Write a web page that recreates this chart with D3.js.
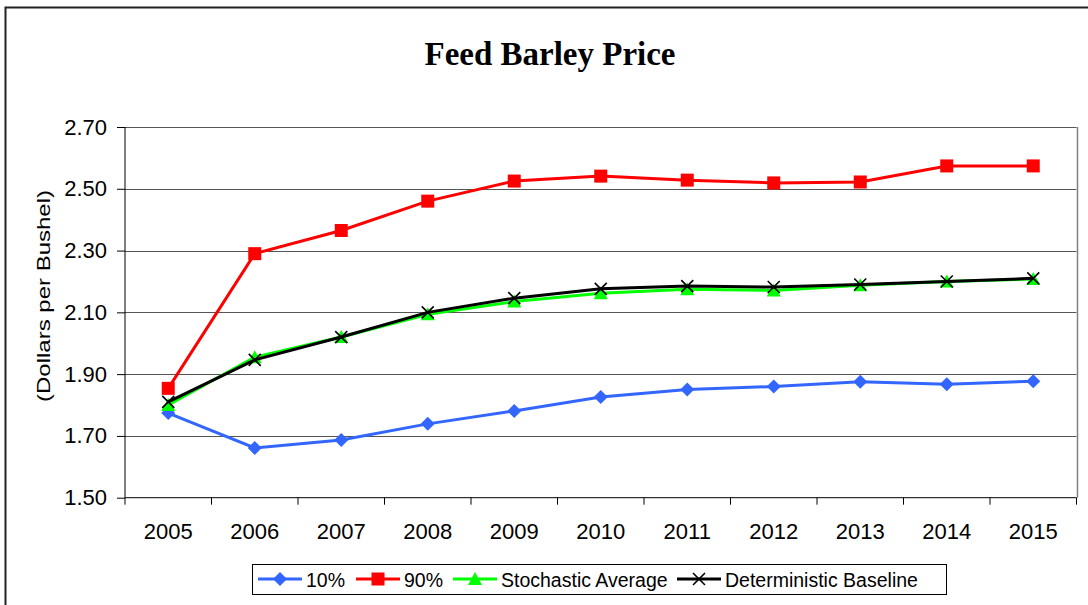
<!DOCTYPE html>
<html><head><meta charset="utf-8">
<script src="https://cdn.jsdelivr.net/npm/d3@7"></script>
<style>body{margin:0;background:#fff}svg{display:block}</style>
</head><body>
<svg id="c" width="1088" height="605"></svg>
<script>
const years = ["2005","2006","2007","2008","2009","2010","2011","2012","2013","2014","2015"];
const p10 = [1.774,1.661,1.687,1.739,1.781,1.826,1.850,1.860,1.875,1.867,1.877];
const p90 = [1.854,2.290,2.365,2.460,2.525,2.541,2.528,2.519,2.522,2.574,2.574];
const stochastic = [1.800,1.955,2.020,2.094,2.135,2.162,2.175,2.171,2.188,2.200,2.208];
const deterministic = [1.810,1.946,2.020,2.100,2.146,2.176,2.185,2.182,2.190,2.200,2.210];
const yTicks = [1.50,1.70,1.90,2.10,2.30,2.50,2.70];
const seriesNames = ["10%","90%","Stochastic Average","Deterministic Baseline"];
const seriesColors = ["#3366FF","#FF0000","#00FF00","#000000"];
const seriesSymbols = ["diamond","square","triangle","x"];

const svg = d3.select("#c");
const L=125, R=1076.5, T=127, B=497.7;
const SANS = "'Liberation Sans',Arial,sans-serif";

// outer border
svg.append("rect").attr("x",5.5).attr("y",7.5).attr("width",1200).attr("height",800)
  .attr("fill","none").attr("stroke","#222").attr("stroke-width",2);

const x = d3.scaleBand().domain(years).range([L,R]);
const y = d3.scaleLinear().domain([1.5,2.7]).range([B,T]);

// gridlines
svg.append("g").selectAll("line").data(yTicks.slice(1)).join("line")
  .attr("x1",L).attr("x2",R).attr("y1",d=>Math.round(y(d))+0.5).attr("y2",d=>Math.round(y(d))+0.5)
  .attr("stroke","#555").attr("stroke-width",1);
// right border of plot
svg.append("line").attr("x1",Math.round(R)+0.5).attr("x2",Math.round(R)+0.5).attr("y1",T).attr("y2",B)
  .attr("stroke","#808080").attr("stroke-width",1.5);

// axes
const yAxis = d3.axisLeft(y).tickValues(yTicks).tickFormat(d3.format(".2f")).tickSize(8).tickPadding(10);
const gy = svg.append("g").attr("transform",`translate(${L},0)`).call(yAxis);
gy.selectAll("text").attr("font-family",SANS).attr("font-size",22).attr("fill","#000");
gy.selectAll("line,path").attr("stroke","#000");
gy.select(".domain").attr("d",`M0,${T}V${B}`);

const xAxis = d3.axisBottom(x).tickSize(0).tickPadding(25.5);
const gx = svg.append("g").attr("transform",`translate(0,${B})`).call(xAxis);
gx.selectAll("text").attr("font-family",SANS).attr("font-size",22).attr("fill","#000");
gx.select(".domain").attr("stroke","#000").attr("d",`M${L},0H${R}`);
// ticks between categories
const boundaries = years.map(d=>x(d)).concat([R]);
gx.append("g").selectAll("line").data(boundaries).join("line")
  .attr("x1",d=>d).attr("x2",d=>d).attr("y1",0).attr("y2",7).attr("stroke","#000");

// title
svg.append("text").attr("x",550).attr("y",65).attr("text-anchor","middle")
  .attr("font-family","'Liberation Serif','Times New Roman',serif").attr("font-weight","bold")
  .attr("font-size",33).text("Feed Barley Price");

// y label
svg.append("text").attr("transform","translate(50,296) rotate(-90)").attr("text-anchor","middle")
  .attr("font-family",SANS).attr("font-size",19)
  .attr("textLength",212).attr("lengthAdjust","spacingAndGlyphs").text("(Dollars per Bushel)");

const cx = d=>x(d)+x.bandwidth()/2;
const data = [p10,p90,stochastic,deterministic];
const line = d3.line().x((d,i)=>cx(years[i])).y(d=>y(d));

function marker(g, sym, color, px, py){
  if(sym==="diamond"){
    g.append("path").attr("d",`M${px},${py-7}L${px+7},${py}L${px},${py+7}L${px-7},${py}Z`).attr("fill",color);
  } else if(sym==="square"){
    g.append("rect").attr("x",px-6.5).attr("y",py-6.5).attr("width",13).attr("height",13).attr("fill",color);
  } else if(sym==="triangle"){
    g.append("path").attr("d",`M${px},${py-7}L${px+7},${py+6}L${px-7},${py+6}Z`).attr("fill",color);
  } else {
    g.append("path").attr("d",`M${px-6},${py-6}L${px+6},${py+6}M${px+6},${py-6}L${px-6},${py+6}`)
      .attr("stroke",color).attr("stroke-width",1.6).attr("fill","none");
  }
}

data.forEach((vals,k)=>{
  const g = svg.append("g");
  g.append("path").datum(vals).attr("d",line).attr("fill","none")
    .attr("stroke",seriesColors[k]).attr("stroke-width",3);
  vals.forEach((v,i)=>marker(g,seriesSymbols[k],seriesColors[k],cx(years[i]),y(v)));
});

// legend
const lg = svg.append("g");
lg.append("rect").attr("x",252.5).attr("y",564.5).attr("width",694).attr("height",30)
  .attr("fill","#fff").attr("stroke","#000").attr("stroke-width",1);
const itemX = [258,356,453,677];
seriesNames.forEach((n,k)=>{
  const lx = itemX[k], ly = 579;
  lg.append("line").attr("x1",lx).attr("x2",lx+44).attr("y1",ly).attr("y2",ly)
    .attr("stroke",seriesColors[k]).attr("stroke-width",3);
  marker(lg,seriesSymbols[k],seriesColors[k],lx+22,ly);
  lg.append("text").attr("x",lx+48).attr("y",587.3)
    .attr("font-family",SANS).attr("font-size",19.5).text(n);
});
</script>
</body></html>
